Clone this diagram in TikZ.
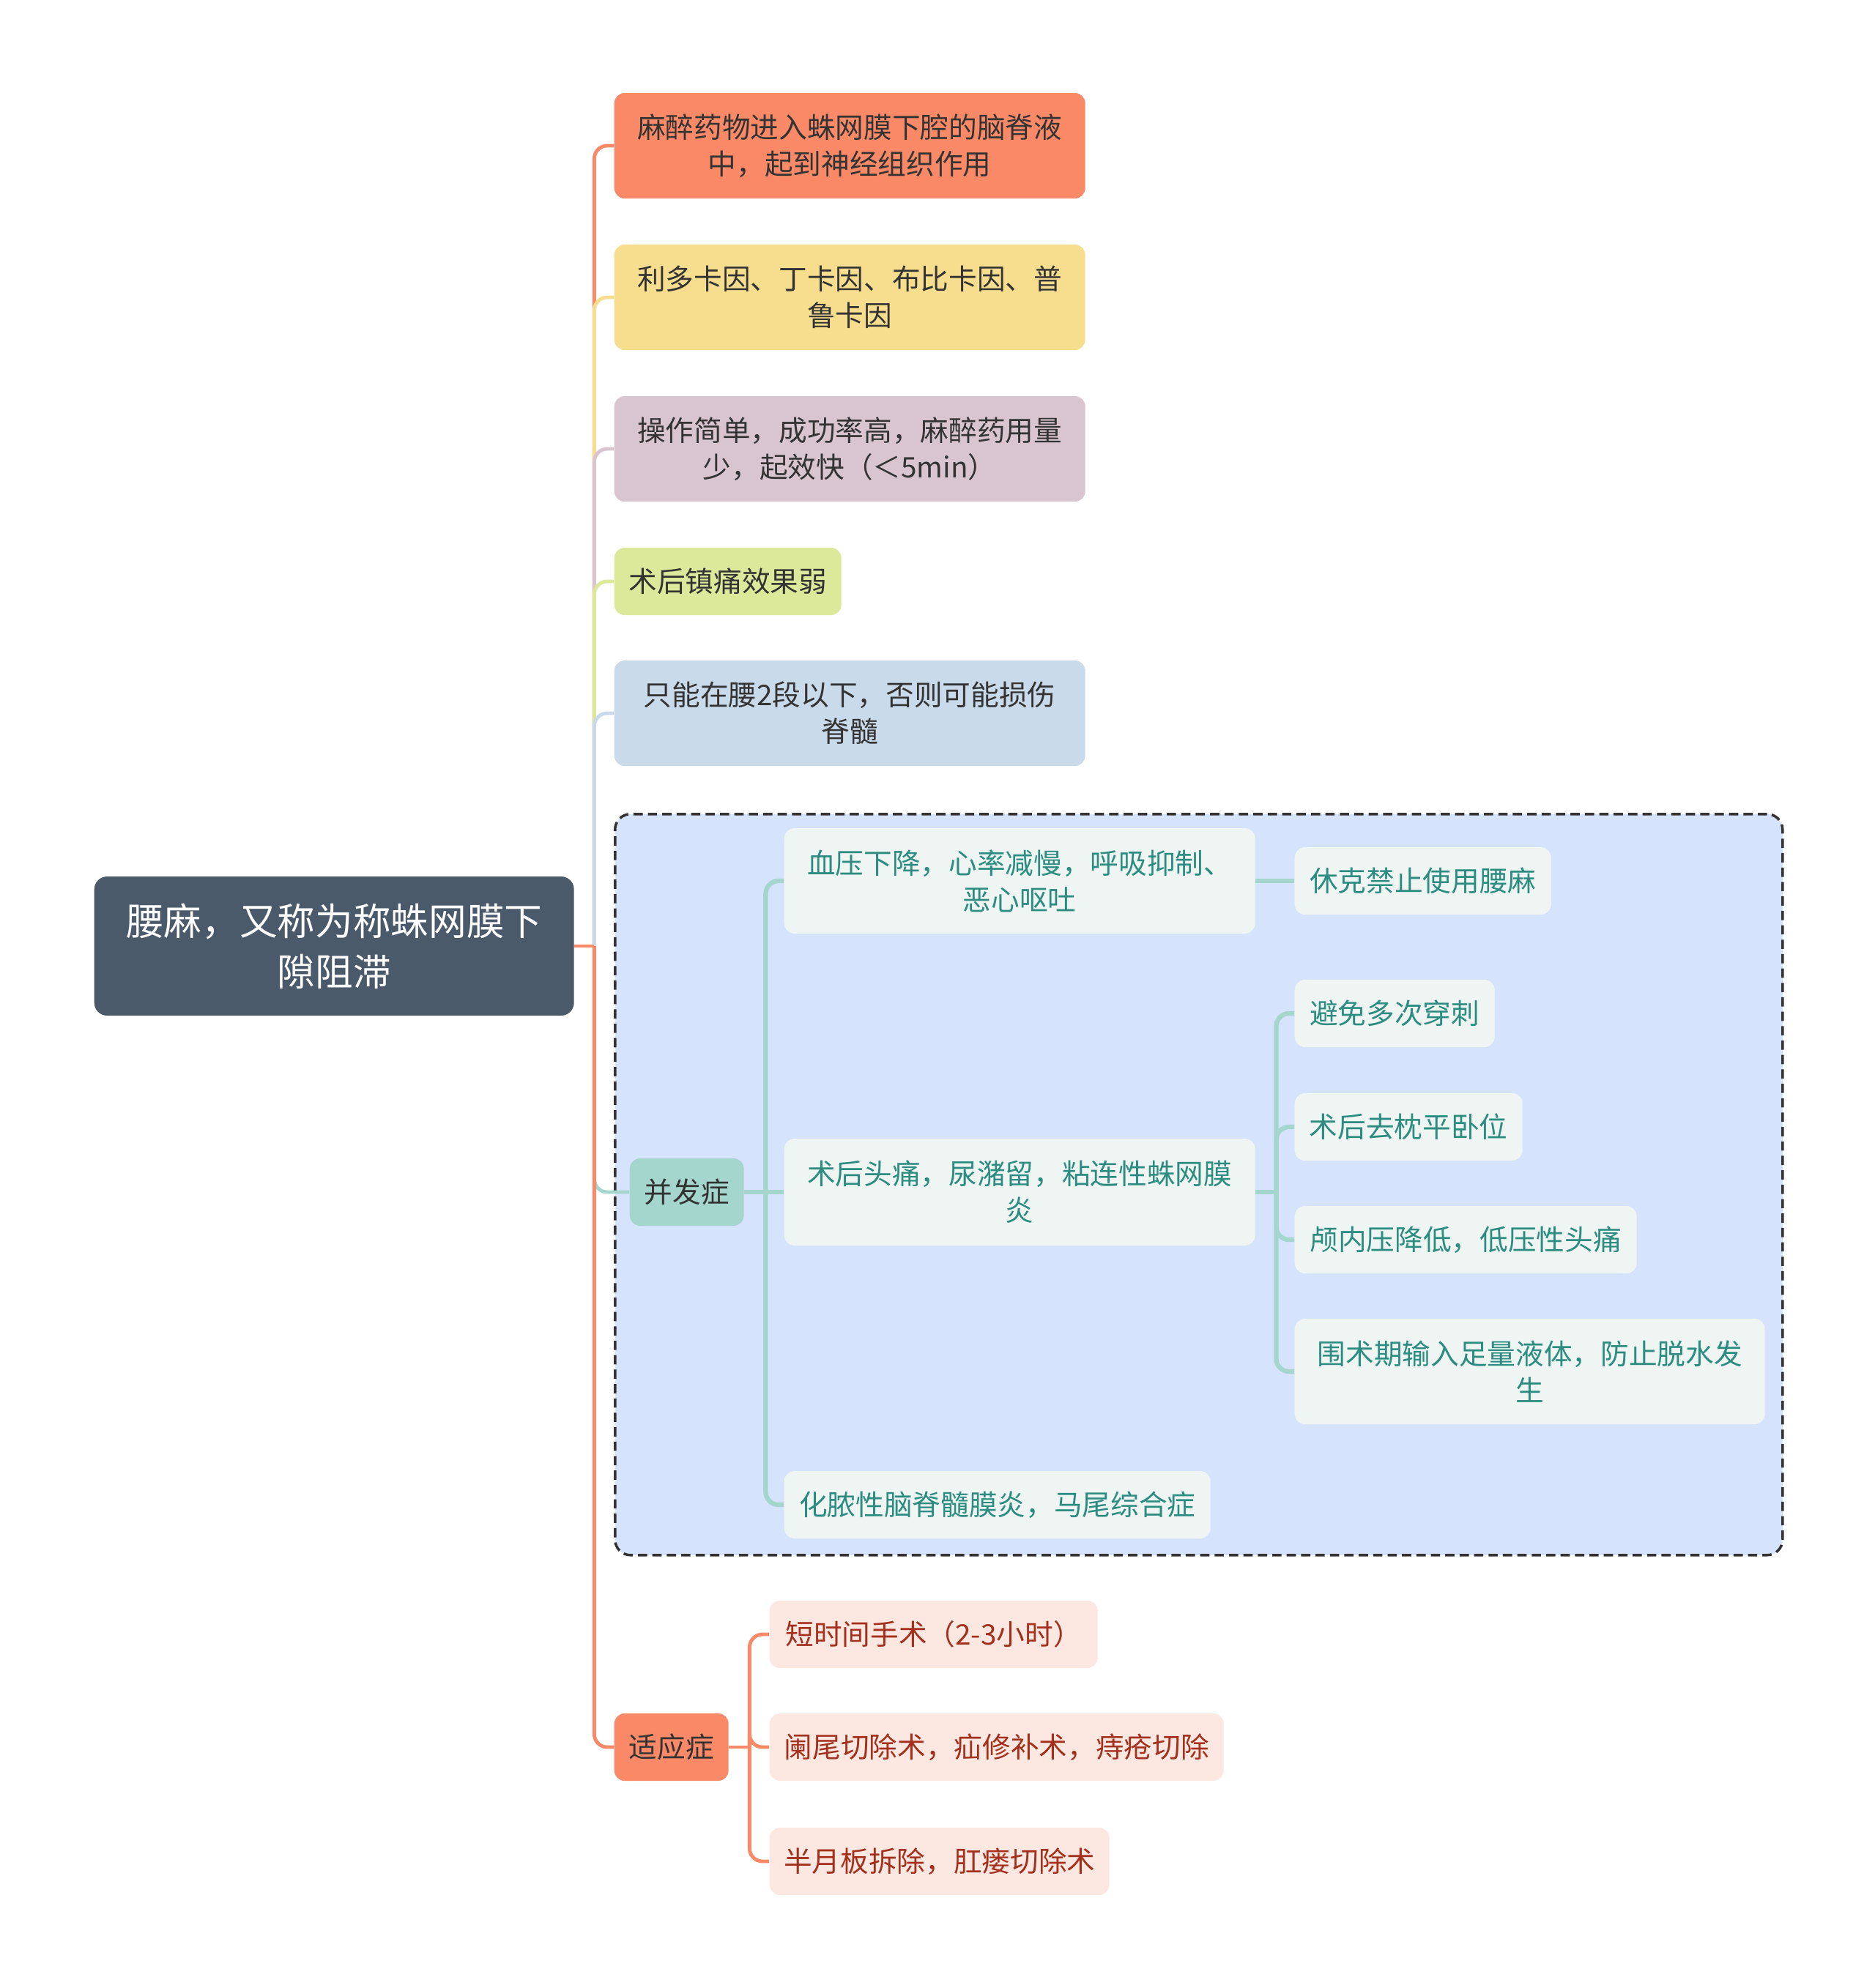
\documentclass[tikz,border=0pt]{standalone}
\usepackage{fontspec}
\setmainfont{Noto Sans CJK SC}
\definecolor{rootc}{HTML}{4A5A6B}
\definecolor{salmon}{HTML}{FA8A67}
\definecolor{sand}{HTML}{F7DE8F}
\definecolor{mauve}{HTML}{D9C5D0}
\definecolor{lime}{HTML}{DCE89A}
\definecolor{sky}{HTML}{C9DAEA}
\definecolor{boxc}{HTML}{D5E4FC}
\definecolor{teal1}{HTML}{A5D6CE}
\definecolor{tealtxt}{HTML}{2B8C7F}
\definecolor{mint}{HTML}{EEF5F3}
\definecolor{blush}{HTML}{FDE7E1}
\definecolor{rust}{HTML}{A3301C}
\definecolor{ink}{HTML}{333333}
\begin{document}
\begin{tikzpicture}[
        box/.style={rounded corners=4pt, align=center, inner sep=0pt, anchor=west,
            minimum height=0.92cm, font=\fontsize{11}{14.2}\selectfont},
        tall/.style={minimum height=1.44cm},
        topic/.style={box, fill=#1, text=ink, minimum width=6.43cm},
        sub/.style={box, fill=mint, text=tealtxt},
        ind/.style={box, fill=blush, text=rust},
        link/.style={line width=1.4pt, rounded corners=5pt, draw=#1},
        sublink/.style={line width=1.8pt, rounded corners=5pt, draw=#1},
        frame/.style={draw=ink, fill=boxc, line width=1pt, dash pattern=on 3.6pt off 2pt,
            rounded corners=6pt, anchor=north west, inner sep=0pt}
    ]
        \useasboundingbox (0,0) rectangle (25.6,-27.15);

        % Koren
        \node[box, fill=rootc, text=white, minimum width=6.55cm, minimum height=1.90cm,
            rounded corners=5pt, font=\fontsize{14.7}{19.7}\selectfont] (root) at (1.28,-12.92)
            {腰麻，又称为称蛛网膜下\\隙阻滞};

        % Prvni uroven
        \node[topic=salmon, tall] (mz) at (8.38,-1.99) {麻醉药物进入蛛网膜下腔的脑脊液\\中，起到神经组织作用};
        \node[topic=sand, tall] (yw) at (8.38,-4.06) {利多卡因、丁卡因、布比卡因、普\\鲁卡因};
        \node[topic=mauve, tall] (yd) at (8.38,-6.13) {操作简单，成功率高，麻醉药用量\\少，起效快（＜5min）};
        \node[topic=lime, minimum width=3.10cm] (qd) at (8.38,-7.94) {术后镇痛效果弱};
        \node[topic=sky, tall] (xz) at (8.38,-9.74) {只能在腰2段以下，否则可能损伤\\脊髓};

        % Ramecek komplikaci
        \node[frame, minimum width=15.94cm, minimum height=10.12cm] (cpl) at (8.38,-11.10) {};
        \node[box, fill=teal1, text=ink, minimum width=1.56cm] (bf) at (8.59,-16.28) {并发症};
        \node[sub, minimum width=6.43cm, tall] (ca) at (10.70,-12.03) {血压下降，心率减慢，呼吸抑制、\\恶心呕吐};
        \node[sub, minimum width=3.50cm] (ca1) at (17.67,-12.03) {休克禁止使用腰麻};
        \node[sub, minimum width=6.43cm, minimum height=1.46cm] (cb) at (10.70,-16.28) {术后头痛，尿潴留，粘连性蛛网膜\\炎};
        \node[sub, minimum width=2.73cm] (cb1) at (17.67,-13.84) {避免多次穿刺};
        \node[sub, minimum width=3.11cm] (cb2) at (17.67,-15.39) {术后去枕平卧位};
        \node[sub, minimum width=4.67cm] (cb3) at (17.67,-16.93) {颅内压降低，低压性头痛};
        \node[sub, minimum width=6.42cm, tall] (cb4) at (17.67,-18.73) {围术期输入足量液体，防止脱水发\\生};
        \node[sub, minimum width=5.82cm] (cc) at (10.70,-20.55) {化脓性脑脊髓膜炎，马尾综合症};

        % Indikace
        \node[box, fill=salmon, text=ink, minimum width=1.56cm] (sy) at (8.38,-23.86) {适应症};
        \node[ind, minimum width=4.48cm] (s1) at (10.50,-22.32) {短时间手术（2-3小时）};
        \node[ind, minimum width=6.20cm] (s2) at (10.50,-23.86) {阑尾切除术，疝修补术，痔疮切除};
        \node[ind, minimum width=4.64cm] (s3) at (10.50,-25.42) {半月板拆除，肛瘘切除术};

        % Spojnice od korene
        \coordinate (rj) at ([xshift=0.27cm]root.east);
        \draw[link=salmon] (rj) |- (mz.west);
        \draw[link=sand] (rj) |- (yw.west);
        \draw[link=mauve] (rj) |- (yd.west);
        \draw[link=lime] (rj) |- (qd.west);
        \draw[link=sky] (rj) |- (xz.west);
        \draw[link=teal1] (rj) |- (bf.west);
        \draw[link=salmon] (rj) |- (sy.west);
        \draw[link=salmon] (root.east) -- (rj);

        % Spojnice komplikaci
        \draw[sublink=teal1] (bf.east) -- ++(0.29,0) coordinate (bj);
        \draw[sublink=teal1] (bj) |- (ca.west);
        \draw[sublink=teal1] (bj) |- (cc.west);
        \draw[sublink=teal1] (bj) -- (cb.west);
        \draw[sublink=teal1] (ca.east) -- (ca1.west);
        \draw[sublink=teal1] (cb.east) -- ++(0.28,0) coordinate (cj);
        \foreach \n in {cb1,cb2,cb3,cb4}
            \draw[sublink=teal1] (cj) |- (\n.west);

        % Spojnice indikaci
        \draw[link=salmon] (sy.east) -- ++(0.28,0) coordinate (sj);
        \foreach \n in {s1,s2,s3}
            \draw[link=salmon] (sj) |- (\n.west);

    \end{tikzpicture}
\end{document}
